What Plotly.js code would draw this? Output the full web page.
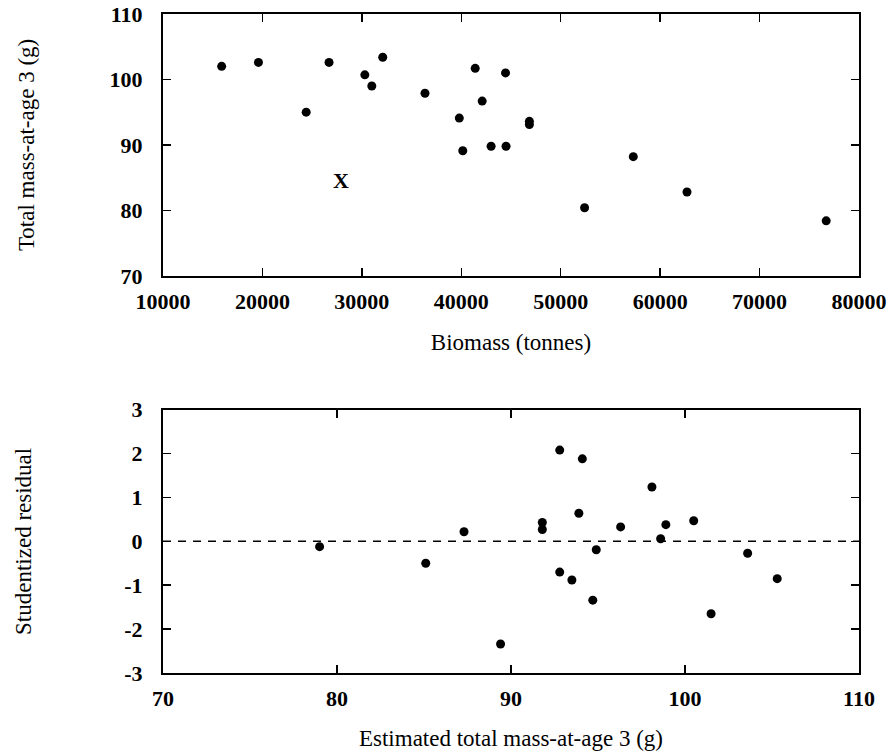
<!DOCTYPE html>
<html>
<head>
<meta charset="utf-8">
<script src="https://cdn.plot.ly/plotly-3.0.1.min.js"></script>
<style>
  html, body { margin: 0; padding: 0; background: #fff; }
  #chart { width: 888px; height: 756px; }
</style>
</head>
<body>
<div id="chart"></div>
<script>
// Top panel: biomass vs total mass-at-age 3
const biomass = [15900, 19600, 24400, 26700, 30300, 31000, 32100, 36350, 39800, 40150, 41400, 42100, 43000, 44450, 44500, 46850, 46850, 52400, 57300, 62700, 76700];
const massAtAge3 = [102.0, 102.6, 95.0, 102.6, 100.7, 99.0, 103.4, 97.9, 94.1, 89.1, 101.7, 96.7, 89.8, 101.0, 89.8, 93.6, 93.1, 80.4, 88.2, 82.8, 78.4];

// Excluded year marked with an "X"
const outlierBiomass = [27900];
const outlierMass = [84.2];
const outlierLabel = ["X"];

// Bottom panel: estimated mass vs studentized residual
const estimatedMass = [79.0, 85.1, 87.3, 89.4, 91.8, 91.8, 92.8, 92.8, 93.5, 93.9, 94.1, 94.7, 94.9, 96.3, 98.1, 98.6, 98.9, 100.5, 101.5, 103.6, 105.3];
const studResidual = [-0.12, -0.50, 0.22, -2.34, 0.43, 0.27, 2.08, -0.70, -0.88, 0.64, 1.88, -1.34, -0.19, 0.33, 1.24, 0.06, 0.38, 0.47, -1.65, -0.27, -0.85];

// Axis tick labels
const topXTicks = [10000, 20000, 30000, 40000, 50000, 60000, 70000, 80000];
const topXTickText = ["10000", "20000", "30000", "40000", "50000", "60000", "70000", "80000"];
const topYTicks = [70, 80, 90, 100, 110];
const topYTickText = ["70", "80", "90", "100", "110"];
const botXTicks = [70, 80, 90, 100, 110];
const botXTickText = ["70", "80", "90", "100", "110"];
const botYTicks = [-3, -2, -1, 0, 1, 2, 3];
const botYTickText = ["-3", "-2", "-1", "0", "1", "2", "3"];

const serif = "Liberation Serif, Times New Roman, serif";
const tickFont = { family: serif, size: 22, color: "#000", weight: "bold" };
const titleFont = { family: serif, size: 23, color: "#000" };

const traces = [
  {
    x: biomass, y: massAtAge3, xaxis: "x", yaxis: "y",
    type: "scatter", mode: "markers",
    marker: { size: 9, color: "#000", symbol: "circle" },
    hoverinfo: "x+y", showlegend: false
  },
  {
    x: outlierBiomass, y: outlierMass, xaxis: "x", yaxis: "y",
    type: "scatter", mode: "text", text: outlierLabel,
    textposition: "middle center",
    textfont: { family: serif, size: 22, color: "#000", weight: "bold" },
    hoverinfo: "x+y", showlegend: false
  },
  {
    x: estimatedMass, y: studResidual, xaxis: "x2", yaxis: "y2",
    type: "scatter", mode: "markers",
    marker: { size: 9, color: "#000", symbol: "circle" },
    hoverinfo: "x+y", showlegend: false
  }
];

const axisCommon = {
  showgrid: false, zeroline: false,
  showline: true, linecolor: "#000", linewidth: 2, mirror: "ticks",
  ticks: "inside", ticklen: 8, tickwidth: 1.5, tickcolor: "#000",
  tickfont: tickFont, tickmode: "array", fixedrange: true
};

const layout = {
  width: 888, height: 756,
  paper_bgcolor: "#fff", plot_bgcolor: "#fff",
  margin: { l: 163, r: 29, t: 14, b: 82.5 },
  font: { family: serif, color: "#000" },
  showlegend: false,
  xaxis: Object.assign({}, axisCommon, {
    domain: [0, 1], anchor: "y", range: [10000, 80000],
    tickvals: topXTicks, ticktext: topXTickText,
    ticklabelstandoff: 5,
    title: { text: "Biomass (tonnes)", font: titleFont, standoff: 21 }
  }),
  yaxis: Object.assign({}, axisCommon, {
    domain: [0.6027, 1], anchor: "x", range: [70, 110],
    tickvals: topYTicks, ticktext: topYTickText,
    ticklabelstandoff: 14,
    title: { text: "Total mass-at-age 3 (g)", font: titleFont, standoff: 69 }
  }),
  xaxis2: Object.assign({}, axisCommon, {
    domain: [0, 1], anchor: "y2", range: [70, 110],
    tickvals: botXTicks, ticktext: botXTickText,
    ticklabelstandoff: 5,
    title: { text: "Estimated total mass-at-age 3 (g)", font: titleFont, standoff: 19 }
  }),
  yaxis2: Object.assign({}, axisCommon, {
    domain: [0, 0.3995], anchor: "x2", range: [-3, 3],
    tickvals: botYTicks, ticktext: botYTickText,
    ticklabelstandoff: 14,
    title: { text: "Studentized residual", font: titleFont, standoff: 86 }
  }),
  shapes: [
    {
      type: "line", xref: "x2", yref: "y2",
      x0: 70, x1: 110, y0: 0, y1: 0,
      line: { color: "#000", width: 1.5, dash: "8px,7px" }
    }
  ]
};

Plotly.newPlot("chart", traces, layout, { displayModeBar: false, staticPlot: true });
</script>
</body>
</html>
